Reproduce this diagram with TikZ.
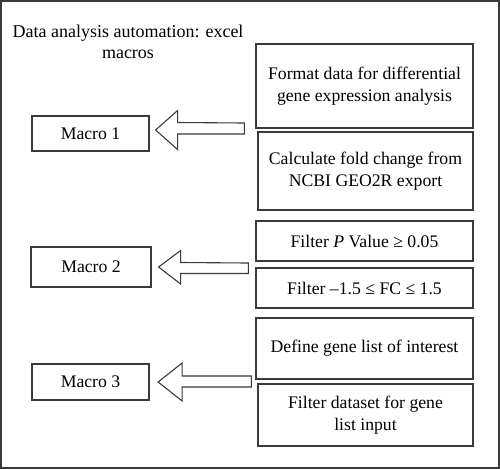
\documentclass[tikz,border=0pt]{standalone}
\usepackage{fontspec}
\setmainfont{Liberation Serif}
\usetikzlibrary{calc}
\definecolor{ln}{HTML}{3A3A3A}
\tikzset{
  box/.style={draw=ln, line width=1.2pt, align=center, inner sep=0pt,
    font=\fontsize{17.7}{21.7}\selectfont, text=black},
  blk/.style={draw=ln, line width=1.1pt, line join=miter, fill=white},
}
\begin{document}
\begin{tikzpicture}[x=1pt,y=-1pt]
\useasboundingbox (0,0) rectangle (500,469);
\draw[ln, line width=1.6pt] (0.8,0.8) rectangle (498.7,468.2);
\node[font=\fontsize{18}{21.5}\selectfont, align=center] (title) at (128,42)
  {Data analysis automation: excel\\macros};
% right boxes
\node[box, minimum width=217pt, minimum height=84pt] (A) at (364.5,86) {Format data for differential\\gene expression analysis};
\node[box, minimum width=215pt, minimum height=78pt] (B) at (365.5,171) {Calculate fold change from\\NCBI GEO2R export};
\node[box, minimum width=217pt, minimum height=40pt] (C) at (364.5,241) {Filter \textit{P} Value ≥ 0.05};
\node[box, minimum width=217pt, minimum height=40pt] (D) at (364.5,288) {Filter –1.5 ≤ FC ≤ 1.5};
\node[box, minimum width=217pt, minimum height=61pt] (E) at (364.5,348.5) {Define gene list of interest};
\node[box, minimum width=215pt, minimum height=62pt] (F) at (365.5,415) {Filter dataset for gene\\list input};
% macro boxes
\node[box, minimum width=117pt, minimum height=35pt] (M1) at (90.5,133.5) {Macro 1};
\node[box, minimum width=120pt, minimum height=40pt] (M2) at (91,267) {Macro 2};
\node[box, minimum width=117pt, minimum height=36pt] (M3) at (90.5,382) {Macro 3};
% block arrows
\coordinate (t1) at ($(M1.east)+(6,-3.5)$);
\coordinate (e1) at ($(A.south west)+(-11,0)$);
\draw[blk] (t1) -- ++(22,-19.5) -- ++(0,12) -- (e1 |- 0,123) -- (e1 |- 0,134) -- ($(t1)+(22,4)$) -- ($(t1)+(22,19.5)$) -- cycle;
\coordinate (t2) at ($(M2.east)+(7,0)$);
\coordinate (e2) at ($(C.south west)+(-7,0)$);
\draw[blk] (t2) -- ++(22,-16.5) -- ++(0,12) -- (e2 |- 0,263) -- (e2 |- 0,273.5) -- ($(t2)+(22,6.5)$) -- ($(t2)+(22,17)$) -- cycle;
\coordinate (t3) at ($(M3.east)+(8.5,0)$);
\coordinate (e3) at ($(E.south west)+(-4,0)$);
\draw[blk] (t3) -- ++(24,-19) -- ++(0,13) -- (e3 |- 0,376) -- (e3 |- 0,387) -- ($(t3)+(24,5)$) -- ($(t3)+(24,19)$) -- cycle;
\end{tikzpicture}
\end{document}
